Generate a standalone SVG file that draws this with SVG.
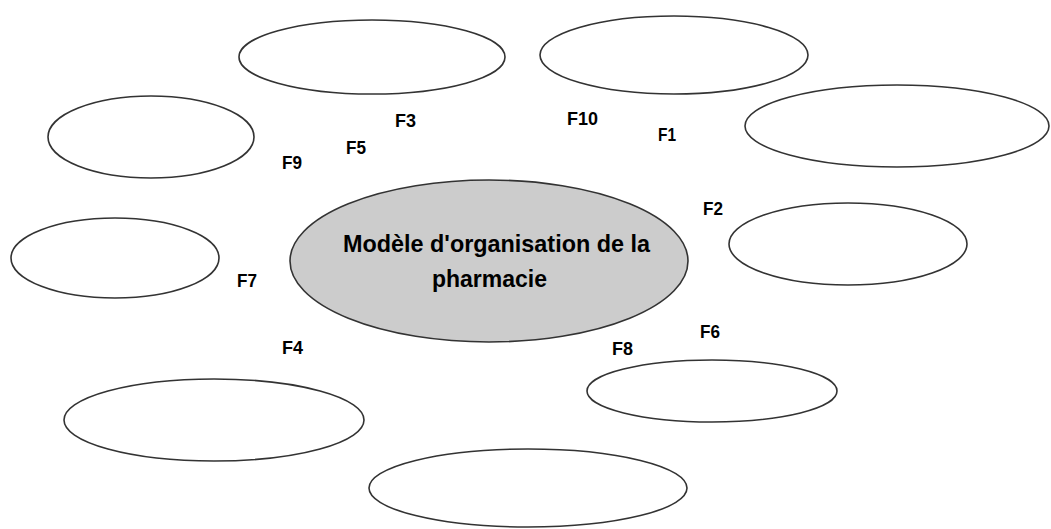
<svg xmlns="http://www.w3.org/2000/svg" width="1051" height="529" viewBox="0 0 1051 529">
<style>
.e{fill:#fff;stroke:#333;stroke-width:1.6}
.c{fill:#cccccc;stroke:#333;stroke-width:1.6}
.l{font-family:"Liberation Sans",Arial,sans-serif;font-weight:bold;font-size:18.5px;fill:#000}
.t{font-family:"Liberation Sans",Arial,sans-serif;font-weight:bold;font-size:24px;fill:#000}
</style>
<rect width="1051" height="529" fill="#fff"/>
<g id="n1"><ellipse class="e" cx="372" cy="57" rx="133" ry="37"/></g>
<g id="n2"><ellipse class="e" cx="674" cy="55" rx="134" ry="39"/></g>
<g id="n3"><ellipse class="e" cx="151" cy="137" rx="103" ry="41"/></g>
<g id="n4"><ellipse class="e" cx="897" cy="126" rx="152" ry="41"/></g>
<g id="n5"><ellipse class="e" cx="115" cy="258" rx="104" ry="40"/></g>
<g id="n6"><ellipse class="c" cx="489" cy="261" rx="199" ry="81"/>
<text class="t" x="343" y="252" textLength="307" lengthAdjust="spacingAndGlyphs">Modèle d'organisation de la</text>
<text class="t" x="432" y="287" textLength="115" lengthAdjust="spacingAndGlyphs">pharmacie</text></g>
<g id="n7"><ellipse class="e" cx="848" cy="244" rx="119" ry="41"/></g>
<g id="n8"><ellipse class="e" cx="712" cy="391" rx="125" ry="31"/></g>
<g id="n9"><ellipse class="e" cx="214" cy="420" rx="150" ry="41"/></g>
<g id="n10"><ellipse class="e" cx="528" cy="488" rx="159" ry="39"/></g>
<g id="connectors"></g>
<g id="labels">
<text class="l" x="395" y="127" textLength="21" lengthAdjust="spacingAndGlyphs">F3</text>
<text class="l" x="567" y="125" textLength="31" lengthAdjust="spacingAndGlyphs">F10</text>
<text class="l" x="658" y="141" textLength="18" lengthAdjust="spacingAndGlyphs">F1</text>
<text class="l" x="346" y="154" textLength="20" lengthAdjust="spacingAndGlyphs">F5</text>
<text class="l" x="282" y="169" textLength="20" lengthAdjust="spacingAndGlyphs">F9</text>
<text class="l" x="703" y="215" textLength="20" lengthAdjust="spacingAndGlyphs">F2</text>
<text class="l" x="237" y="287" textLength="20" lengthAdjust="spacingAndGlyphs">F7</text>
<text class="l" x="282" y="354" textLength="21" lengthAdjust="spacingAndGlyphs">F4</text>
<text class="l" x="612" y="355" textLength="21" lengthAdjust="spacingAndGlyphs">F8</text>
<text class="l" x="700" y="338" textLength="20" lengthAdjust="spacingAndGlyphs">F6</text>
</g>
</svg>
